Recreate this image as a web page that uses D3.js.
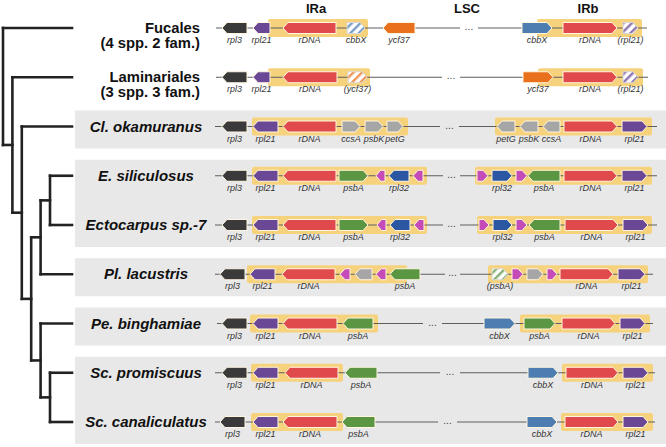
<!DOCTYPE html>
<html><head><meta charset="utf-8">
<script src="https://cdn.jsdelivr.net/npm/d3@7"></script>
<style>body{margin:0;background:#fff;} svg{display:block;font-family:"Liberation Sans",Arial,Helvetica,sans-serif;}</style>
</head><body><svg id="c" width="666" height="447"></svg>
<script>
// ---------- DATA ----------
const species = ["Fucales","Laminariales","Cl. okamuranus","E. siliculosus","Ectocarpus sp.-7","Pl. lacustris","Pe. binghamiae","Sc. promiscuus","Sc. canaliculatus"];
const subtitles = {"Fucales":"(4 spp. 2 fam.)","Laminariales":"(3 spp. 3 fam.)"};
const shadedGroups = [["Cl. okamuranus"],["E. siliculosus","Ectocarpus sp.-7"],["Pl. lacustris"],["Pe. binghamiae"],["Sc. promiscuus","Sc. canaliculatus"]];
const regionHeaders = ["IRa","LSC","IRb"];
const regionHeaderPos = [101,252,373];
const phylogeny = ["Fucales",["Laminariales",["Cl. okamuranus",[[["E. siliculosus","Ectocarpus sp.-7"],"Pl. lacustris"],["Pe. binghamiae",["Sc. promiscuus","Sc. canaliculatus"]]]]]];

// gene: [name, start, end, strand(+1 right / -1 left), label, hatched(partial copy)]
const genesFucales = [["rpl3",7,32,-1,"rpl3"],["rpl21",38,55,-1,"rpl21"],["rDNA",68,121,-1,"rDNA"],["cbbX",132,150,1,"cbbX",1],["ycf37",168,200,-1,"ycf37"],["cbbX",307,337,1,"cbbX"],["rDNA",348,402,1,"rDNA"],["rpl21",408,423,1,"(rpl21)",1]];
const genesLaminariales = [["rpl3",7,32,-1,"rpl3"],["rpl21",38,55,-1,"rpl21"],["rDNA",68,122,-1,"rDNA"],["ycf37",133,152,1,"(ycf37)",1],["ycf37",308,338,1,"ycf37"],["rDNA",348,402,1,"rDNA"],["rpl21",408,423,1,"(rpl21)",1]];
const genesCl = [["rpl3",7,32,-1,"rpl3"],["rpl21",38,63,-1,"rpl21"],["rDNA",68,121,-1,"rDNA"],["ccsA",127,145,1,"ccsA"],["psbK",150,168,1,"psbK"],["petG",172,188,1,"petG"],["petG",282,300,-1,"petG"],["psbK",305,323,-1,"psbK"],["ccsA",328,345,-1,"ccsA"],["rDNA",349,402,1,"rDNA"],["rpl21",407,432,1,"rpl21"]];
const genesE = [["rpl3",7,32,-1,"rpl3"],["rpl21",38,63,-1,"rpl21"],["rDNA",68,121,-1,"rDNA"],["psbA",124,153,1,"psbA"],["orf",161,170,-1,""],["rpl32",174,194,-1,"rpl32"],["orf",198,208,-1,""],["orf",262,273,1,""],["rpl32",277,297,1,"rpl32"],["orf",301,312,1,""],["psbA",313,345,-1,"psbA"],["rDNA",349,402,1,"rDNA"],["rpl21",407,432,1,"rpl21"]];
const genesEcto = [["rpl3",7,32,-1,"rpl3"],["rpl21",38,63,-1,"rpl21"],["rDNA",68,121,-1,"rDNA"],["psbA",124,153,1,"psbA"],["orf",162,171,-1,""],["rpl32",175,195,-1,"rpl32"],["orf",199,209,-1,""],["orf",264,274,1,""],["rpl32",278,297,1,"rpl32"],["orf",301,312,1,""],["psbA",314,345,-1,"psbA"],["rDNA",350,403,1,"rDNA"],["rpl21",408,433,1,"rpl21"]];
const genesPl = [["rpl3",5,30,-1,"rpl3"],["rpl21",35,60,-1,"rpl21"],["rDNA",67,120,-1,"rDNA"],["orf",125,135,-1,""],["ccsA",140,157,-1,""],["orf",161,171,-1,""],["psbA",175,205,-1,"psbA"],["psbA",277,293,1,"(psbA)",1],["orf",297,308,1,""],["ccsA",312,328,1,""],["orf",332,342,1,""],["rDNA",345,398,1,"rDNA"],["rpl21",403,430,1,"rpl21"]];
const genesPe = [["rpl3",7,32,-1,"rpl3"],["rpl21",38,63,-1,"rpl21"],["rDNA",68,122,-1,"rDNA"],["psbA",128,158,-1,"psbA"],["cbbX",269,300,1,"cbbX"],["psbA",309,340,1,"psbA"],["rDNA",347,400,1,"rDNA"],["rpl21",405,430,1,"rpl21"]];
const genesScP = [["rpl3",7,32,-1,"rpl3"],["rpl21",38,63,-1,"rpl21"],["rDNA",70,123,-1,"rDNA"],["psbA",130,162,-1,"psbA"],["cbbX",313,343,1,"cbbX"],["rDNA",351,403,1,"rDNA"],["rpl21",408,433,1,"rpl21"]];
const genesScC = [["rpl3",5,30,-1,"rpl3"],["rpl21",38,63,-1,"rpl21"],["rDNA",68,122,-1,"rDNA"],["psbA",127,160,-1,"psbA"],["cbbX",312,342,1,"cbbX"],["rDNA",350,403,1,"rDNA"],["rpl21",408,433,1,"rpl21"]];
const genesBySpecies = [genesFucales,genesLaminariales,genesCl,genesE,genesEcto,genesPl,genesPe,genesScP,genesScC];

// inverted repeat spans [IRa, IRb]
const irSpans = [[[53,153],[322,427]],[[53,155],[323,428]],[[37,193],[280,437]],[[37,212],[260,437]],[[37,212],[262,437]],[[32,192],[273,433]],[[35,163],[305,435]],[[36,128],[347,438]],[[36,128],[346,438]]];
// backbone extent and break (ellipsis)
const backbone = [[1,432],[1,433],[0,442],[0,442],[0,442],[0,438],[2,438],[0,440],[0,440]];
const breaks = [[245,263],[227,245],[225,244],[228,245],[228,245],[230,245],[208,227],[225,245],[223,242]];

const geneNames = ["rpl3","rpl21","rDNA","cbbX","ycf37","ccsA","psbK","petG","psbA","rpl32","orf"];
const geneColors = ["#3a3a3a","#6a4896","#e04a4c","#4d7db1","#e9701d","#a6a6a6","#a6a6a6","#a6a6a6","#5b9642","#2b56a1","#c54bb8"];

// ---------- DRAW ----------
const W = 666, H = 447;
const svg = d3.select("#c");
const x = d3.scaleLinear().domain([0,440]).range([215,655]);
const y = d3.scalePoint().domain(species).range([28,422]);
const color = d3.scaleOrdinal().domain(geneNames).range(geneColors);
const geneH = 11;

// hatch patterns
const defs = svg.append("defs");
geneNames.forEach(g => {
  const p = defs.append("pattern").attr("id","hatch-"+g).attr("patternUnits","userSpaceOnUse")
    .attr("width",6).attr("height",6).attr("patternTransform","rotate(45)");
  p.append("rect").attr("width",6).attr("height",6).attr("fill","#fff");
  p.append("rect").attr("width",2.4).attr("height",6).attr("fill",color(g)).attr("opacity",0.75);
});

// shaded group boxes
svg.append("g").selectAll("rect").data(shadedGroups).join("rect")
  .attr("x",75).attr("width",W-75)
  .attr("y",d => y(d[0]) - 16)
  .attr("height",d => y(d[d.length-1]) - y(d[0]) + 38)
  .attr("fill","#e8e8e8");

// phylogeny
const root = d3.hierarchy(phylogeny, d => Array.isArray(d) ? d : null);
const tx = d3.scaleLinear().domain([0,5]).range([3,50]);
root.eachAfter(n => {
  n.py = n.children ? (n.children[0].py + n.children[n.children.length-1].py)/2 : y(n.data);
  n.px = n.children ? tx(n.depth) : 72;
});
const treeG = svg.append("g").attr("stroke","#222").attr("stroke-width",2.6).attr("fill","none").attr("stroke-linecap","square");
root.descendants().filter(n => n.children).forEach(n => {
  const ys = n.children.map(c => c.py);
  treeG.append("line").attr("x1",n.px).attr("x2",n.px).attr("y1",d3.min(ys)).attr("y2",d3.max(ys));
  n.children.forEach(c => {
    treeG.append("line").attr("x1",n.px).attr("x2",c.px).attr("y1",c.py).attr("y2",c.py);
  });
});

// headers
svg.append("g").selectAll("text").data(regionHeaders).join("text")
  .attr("x",(d,i) => x(regionHeaderPos[i])).attr("y",13)
  .attr("text-anchor","middle").attr("font-weight","bold").attr("font-size",13).attr("fill","#111")
  .text(d => d);

// species labels
species.forEach(s => {
  const cy = y(s);
  if (subtitles[s]) {
    const t = svg.append("text").attr("text-anchor","end").attr("font-weight","bold").attr("font-size",14.8).attr("fill","#111");
    t.append("tspan").attr("x",200).attr("y",cy+5).text(s);
    t.append("tspan").attr("x",200).attr("y",cy+20).text(subtitles[s]);
  } else {
    svg.append("text").attr("x",146).attr("y",cy+5).attr("text-anchor","middle")
      .attr("font-weight","bold").attr("font-style","italic").attr("font-size",15).attr("fill","#111").text(s);
  }
});

function genePath(g, cy) {
  const x0 = x(g[1]), x1 = x(g[2]), h = geneH/2;
  const t = Math.min(5, (x1-x0)/2);
  if (g[3] > 0) return `M${x0},${cy-h}L${x1-t},${cy-h}L${x1},${cy}L${x1-t},${cy+h}L${x0},${cy+h}Z`;
  return `M${x1},${cy-h}L${x0+t},${cy-h}L${x0},${cy}L${x0+t},${cy+h}L${x1},${cy+h}Z`;
}

species.forEach((s,i) => {
  const cy = y(s);
  const g = svg.append("g");
  // IR highlight
  g.selectAll("rect.ir").data(irSpans[i]).join("rect").attr("class","ir")
    .attr("x",d => x(d[0])).attr("width",d => x(d[1]) - x(d[0]))
    .attr("y",cy-9).attr("height",18).attr("rx",2)
    .attr("fill","#f7d27c");
  // backbone with break
  const b = backbone[i], br = breaks[i];
  g.selectAll("line.bb").data([[b[0],br[0]],[br[1],b[1]]]).join("line").attr("class","bb")
    .attr("x1",d => x(d[0])).attr("x2",d => x(d[1])).attr("y1",cy).attr("y2",cy)
    .attr("stroke","#5e5e5e").attr("stroke-width",1);
  g.append("text").attr("x",x((br[0]+br[1])/2)).attr("y",cy+2).attr("text-anchor","middle")
    .attr("font-size",10).attr("fill","#444").text("...");
  // genes
  g.selectAll("path.gene").data(genesBySpecies[i]).join("path").attr("class","gene")
    .attr("d",d => genePath(d,cy))
    .attr("fill",d => d[5] ? `url(#hatch-${d[0]})` : color(d[0]))
    .attr("stroke",d => d[5] ? "#d8d8d8" : "#fff6e0").attr("stroke-width",1);
  g.selectAll("text.gl").data(genesBySpecies[i].filter(d => d[4])).join("text").attr("class","gl")
    .attr("x",d => x((d[1]+d[2])/2)).attr("y",cy+15).attr("text-anchor","middle")
    .attr("font-size",9).attr("font-style","italic").attr("fill","#333").text(d => d[4]);
});
</script></body></html>
